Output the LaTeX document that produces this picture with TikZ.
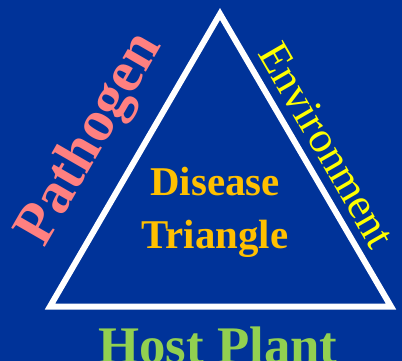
\documentclass[tikz,border=0pt]{standalone}
\usepackage{fontspec}
\setmainfont{Liberation Serif}
\definecolor{bgblue}{RGB}{0,51,153}
\definecolor{pathcol}{RGB}{255,128,128}
\definecolor{envcol}{RGB}{255,255,0}
\definecolor{discol}{RGB}{255,192,0}
\definecolor{hostcol}{RGB}{146,208,80}
\tikzset{
  label/.style={inner sep=0pt, font=\bfseries},
  side/.style={draw=white, line width=6bp, line join=miter}
}
\begin{document}
\begin{tikzpicture}[x=1bp,y=-1bp]
\fill[bgblue] (0,0) rectangle (402,361);
\useasboundingbox (0,0) rectangle (402,361);
\coordinate (apex) at (220,14);
\coordinate (bl) at (50,306.5);
\coordinate (br) at (391,306.5);
\draw[side] (apex) -- (bl) -- (br) -- cycle;
\node[label, text=pathcol, rotate=60, font=\bfseries\fontsize{59}{64}\selectfont] (pathogen) at (91,140) {Pathogen};
\node[label, text=envcol, rotate=-60, font=\fontsize{44}{50}\selectfont] (env) at (327,145) {Environment};
\node[label, text=discol, align=center, font=\bfseries\fontsize{41}{53}\selectfont] (disease) at (215,212) {Disease\\Triangle};
\node[label, text=hostcol, font=\bfseries\fontsize{53}{58}\selectfont] (host) at (218,345) {Host Plant};
\end{tikzpicture}
\end{document}
